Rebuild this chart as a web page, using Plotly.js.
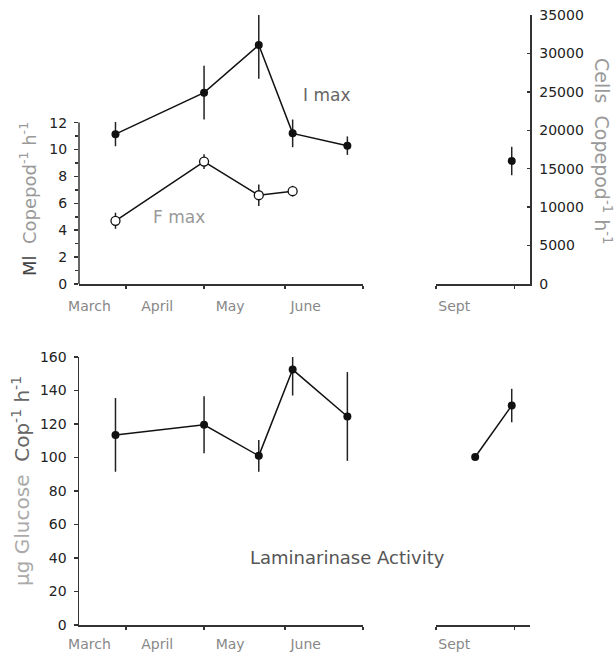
<!DOCTYPE html>
<html>
<head>
<meta charset="utf-8">
<script src="https://cdn.plot.ly/plotly-3.0.1.min.js"></script>
<style>html,body{margin:0;padding:0;background:#fff;}#chart{width:616px;height:657px;}</style>
</head>
<body>
<div id="chart"></div>
<script>
// ---------- DATA ----------
// Top panel: I max (cells copepod-1 h-1, right axis), spring part and September part
const imaxDates = ['1990-03-28', '1990-05-01', '1990-05-22', '1990-06-04', '1990-06-25'];
const imaxValues = [19500, 24900, 31100, 19600, 18000];
const imaxErrors = [1580, 3500, 4400, 1800, 1200];
const imaxSeptDates = ['1990-09-30'];
const imaxSeptValues = [16000];
const imaxSeptErrors = [1850];

// Top panel: F max (ml copepod-1 h-1, left axis)
const fmaxDates = ['1990-03-28', '1990-05-01', '1990-05-22', '1990-06-04'];
const fmaxValues = [4.7, 9.1, 6.6, 6.9];
const fmaxErrors = [0.6, 0.55, 0.8, 0.4];

// Bottom panel: Laminarinase activity (µg glucose cop-1 h-1)
const lamDates = ['1990-03-28', '1990-05-01', '1990-05-22', '1990-06-04', '1990-06-25'];
const lamValues = [113.5, 119.5, 101, 152.5, 124.5];
const lamErrors = [22, 17, 9.5, 15.5, 26.5];
const lamSeptDates = ['1990-09-16', '1990-09-30'];
const lamSeptValues = [100.3, 131];
const lamSeptErrors = [0, 10];

// Axis ticks / labels
const springLabelDates = ['1990-03-18', '1990-04-13', '1990-05-11', '1990-06-09'];
const springLabels = ['March', 'April', 'May', 'June'];
const springMonthStarts = ['1990-04-01', '1990-05-01', '1990-06-01', '1990-07-01'];
const septLabelDates = ['1990-09-08'];
const septLabels = ['Sept'];
const septMonthStarts = ['1990-09-01', '1990-10-01'];
const springRange = ['1990-03-14', '1990-07-01'];
const septRange = ['1990-09-01', '1990-10-07'];
const leftTopTicks = [0, 2, 4, 6, 8, 10, 12];
const leftTopMinor = [1, 3, 5, 7, 9, 11];
const rightTopTicks = [0, 5000, 10000, 15000, 20000, 25000, 30000, 35000];
const bottomTicks = [0, 20, 40, 60, 80, 100, 120, 140, 160];

// ---------- STYLE ----------
const W = 616, H = 657;
const px = v => v / W;
const py = v => 1 - v / H;
const FONT = 'DejaVu Sans';
const AX = '#333';
const topDom = [py(284), py(15)];
const botDom = [py(625), py(357)];
const springDom = [px(79), px(363)];
const septDom = [px(436), px(530)];

function xAxis(dom, anchor, range, lblDates, lbls, starts, standoff) {
  return {
    type: 'date', domain: dom, anchor: anchor, range: range,
    showline: true, linecolor: AX, linewidth: 1.5, showgrid: false, zeroline: false,
    tickmode: 'array', tickvals: lblDates, ticktext: lbls, ticks: '', ticklen: 0,
    ticklabelstandoff: standoff,
    tickfont: {family: FONT, size: 14, color: '#888'},
    minor: {tickmode: 'array', tickvals: starts, ticks: 'outside', ticklen: 3,
            tickwidth: 1.5, tickcolor: AX, showgrid: false},
    fixedrange: true
  };
}

const filled = {color: '#111', size: 8};
const lineStyle = {color: '#111', width: 1.5};
function err(arr) {
  return {type: 'data', array: arr, visible: true, thickness: 1.5, width: 0, color: '#222'};
}

const traces = [
  {x: fmaxDates, y: fmaxValues, xaxis: 'x', yaxis: 'y', mode: 'lines+markers',
   line: lineStyle, marker: {color: '#fff', size: 9, line: {color: '#111', width: 1.3}},
   error_y: err(fmaxErrors), cliponaxis: false, hoverinfo: 'skip'},
  {x: imaxDates, y: imaxValues, xaxis: 'x', yaxis: 'y2', mode: 'lines+markers',
   line: lineStyle, marker: filled, error_y: err(imaxErrors), cliponaxis: false, hoverinfo: 'skip'},
  {x: imaxSeptDates, y: imaxSeptValues, xaxis: 'x2', yaxis: 'y3', mode: 'lines+markers',
   line: lineStyle, marker: filled, error_y: err(imaxSeptErrors), cliponaxis: false, hoverinfo: 'skip'},
  {x: lamDates, y: lamValues, xaxis: 'x3', yaxis: 'y4', mode: 'lines+markers',
   line: lineStyle, marker: filled, error_y: err(lamErrors), cliponaxis: false, hoverinfo: 'skip'},
  {x: lamSeptDates, y: lamSeptValues, xaxis: 'x4', yaxis: 'y5', mode: 'lines+markers',
   line: lineStyle, marker: filled, error_y: err(lamSeptErrors), cliponaxis: false, hoverinfo: 'skip'}
];

const tickFont = {family: FONT, size: 14, color: '#222'};

function note(x, y, text, size, color, angle) {
  return {xref: 'paper', yref: 'paper', x: px(x), y: py(y), xanchor: 'center', yanchor: 'middle',
          textangle: angle || 0, showarrow: false, text: text,
          font: {family: FONT, size: size, color: color}};
}

const layout = {
  width: W, height: H,
  margin: {l: 0, r: 0, t: 0, b: 0, pad: 0},
  paper_bgcolor: '#fff', plot_bgcolor: 'rgba(0,0,0,0)',
  showlegend: false,
  font: {family: FONT},
  xaxis: xAxis(springDom, 'y', springRange, springLabelDates, springLabels, springMonthStarts, 9),
  xaxis2: xAxis(septDom, 'y3', septRange, septLabelDates, septLabels, septMonthStarts, 9),
  xaxis3: xAxis(springDom, 'y4', springRange, springLabelDates, springLabels, springMonthStarts, 6),
  xaxis4: xAxis(septDom, 'y5', septRange, septLabelDates, septLabels, septMonthStarts, 6),
  yaxis: {
    domain: topDom, anchor: 'x', range: [0, 20], showline: false, showgrid: false, zeroline: false,
    tickmode: 'array', tickvals: leftTopTicks, ticks: 'outside', ticklen: 4, tickwidth: 1.5, tickcolor: AX,
    minor: {tickmode: 'array', tickvals: leftTopMinor, ticks: 'outside', ticklen: 3, tickwidth: 1.5, tickcolor: AX, showgrid: false},
    tickfont: tickFont, ticklabelstandoff: 4, fixedrange: true
  },
  yaxis2: {domain: topDom, anchor: 'x', range: [0, 35000], visible: false, fixedrange: true},
  yaxis3: {
    domain: topDom, anchor: 'x2', side: 'right', range: [0, 35000],
    showline: true, linecolor: AX, linewidth: 1.5, showgrid: false, zeroline: false,
    tickmode: 'array', tickvals: rightTopTicks, tickformat: 'd', ticks: 'inside', ticklen: 3, tickwidth: 1.5, tickcolor: AX,
    tickfont: tickFont, ticklabelstandoff: 5, fixedrange: true
  },
  yaxis4: {
    domain: botDom, anchor: 'x3', range: [0, 160],
    showline: true, linecolor: AX, linewidth: 1.5, showgrid: false, zeroline: false,
    tickmode: 'array', tickvals: bottomTicks, ticks: 'outside', ticklen: 4, tickwidth: 1.5, tickcolor: AX,
    tickfont: tickFont, ticklabelstandoff: 4, fixedrange: true
  },
  yaxis5: {domain: botDom, anchor: 'x4', range: [0, 160], visible: false, fixedrange: true},
  shapes: [
    {type: 'line', xref: 'paper', yref: 'y', x0: px(79), x1: px(79), y0: 0, y1: 12,
     line: {color: AX, width: 1.5}}
  ],
  annotations: [
    note(28, 199, '<span style="color:#444">Ml</span>&nbsp;&nbsp;Copepod<sup>-1</sup> h<sup>-1</sup>', 18, '#999', -90),
    note(603, 151, 'Cells&nbsp;&nbsp;Copepod<sup>-1</sup> h<sup>-1</sup>', 19, '#999', 90),
    note(21, 481, 'µg Glucose&nbsp;&nbsp;<span style="color:#666">Cop<sup>-1</sup> h<sup>-1</sup></span>', 20, '#aaa', -90),
    note(326, 95, 'I max', 17, '#666'),
    note(179, 217, 'F max', 17, '#999'),
    note(347, 557, 'Laminarinase Activity', 18, '#555')
  ]
};

Plotly.newPlot('chart', traces, layout, {staticPlot: true, displayModeBar: false});
</script>
</body>
</html>
